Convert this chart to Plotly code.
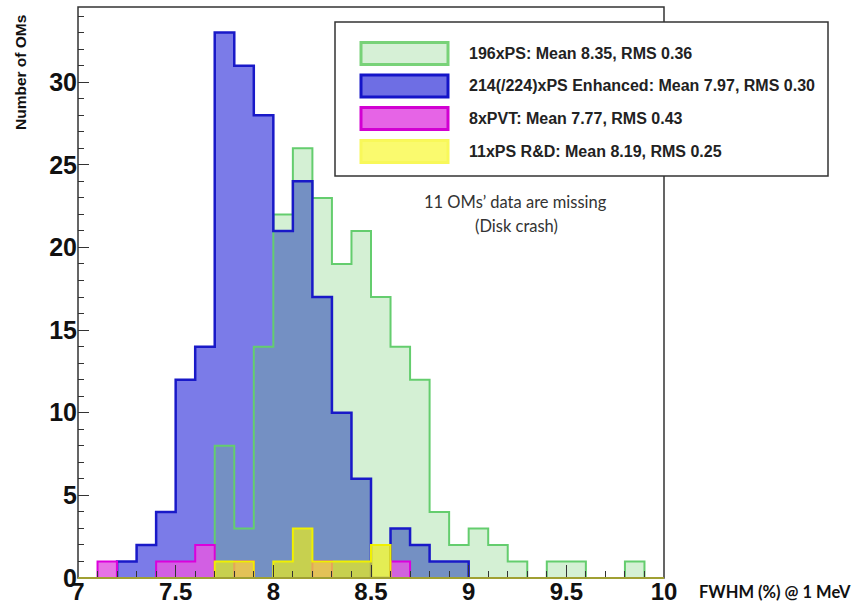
import plotly.graph_objects as go

# ---------------- data (bin width 0.1, FWHM %) ----------------
BIN_W = 0.1
enh_start = 7.2
enh_counts = [1, 2, 4, 12, 14, 33, 31, 28, 21, 24, 17, 10, 6, 0, 3, 2, 1, 1]
ps_start = 7.7
ps_counts = [8, 3, 14, 22, 26, 23, 19, 21, 17, 14, 12, 4, 2, 3, 2, 1, 0, 1, 1, 0, 0, 1]
pvt_start = 7.1
pvt_counts = [1, 0, 0, 1, 1, 2, 0, 1, 0, 0, 0, 1, 0, 0, 0, 1]
rd_start = 7.7
rd_counts = [1, 1, 0, 1, 3, 1, 1, 1, 2]

legend_labels = [
    "196xPS: Mean 8.35, RMS 0.36",
    "214(/224)xPS Enhanced: Mean 7.97, RMS 0.30",
    "8xPVT: Mean 7.77, RMS 0.43",
    "11xPS R&amp;D: Mean 8.19, RMS 0.25",
]
x_ticks = [7, 7.5, 8, 8.5, 9, 9.5, 10]
x_tick_text = ["7", "7.5", "8", "8.5", "9", "9.5", "10"]
y_ticks = [0, 5, 10, 15, 20, 25, 30]
note_lines = ["11 OMs’ data are missing", "(Disk crash)"]

# ---------------- geometry ----------------
W, H = 856, 605
L, R, T, B = 78, 664, 7, 578   # plot area in pixels


def px_x(x):
    return (x - L) / (R - L)


def px_y(y):
    return (B - y) / (B - T)


def step(start, counts):
    edges = [round(start + i * BIN_W, 3) for i in range(len(counts) + 1)]
    xs = [edges[0]] + edges[:-1] + [edges[-1]]
    ys = [0] + list(counts) + [0]
    return xs, ys


fig = go.Figure()

bx, by = step(enh_start, enh_counts)
gx, gy = step(ps_start, ps_counts)
mx, my = step(pvt_start, pvt_counts)
yx, yy = step(rd_start, rd_counts)

# blue fill
fig.add_trace(go.Scatter(x=bx, y=by, mode="lines", line_shape="hv",
                         fill="tozeroy", fillcolor="rgb(123,123,232)",
                         line=dict(width=0), hoverinfo="skip"))
# green fill + outline (drawn over blue, semi transparent)
fig.add_trace(go.Scatter(x=gx, y=gy, mode="lines", line_shape="hv",
                         fill="tozeroy", fillcolor="rgba(100,200,100,0.28)",
                         line=dict(color="rgb(100,205,110)", width=2),
                         hoverinfo="skip"))
# blue outline on top
fig.add_trace(go.Scatter(x=bx, y=by, mode="lines", line_shape="hv",
                         line=dict(color="rgb(25,25,200)", width=2.5),
                         hoverinfo="skip"))
# magenta
fig.add_trace(go.Scatter(x=mx, y=my, mode="lines", line_shape="hv",
                         fill="tozeroy", fillcolor="rgba(226,90,226,0.85)",
                         line=dict(color="rgb(220,0,220)", width=2),
                         hoverinfo="skip"))
# yellow
fig.add_trace(go.Scatter(x=yx, y=yy, mode="lines", line_shape="hv",
                         fill="tozeroy", fillcolor="rgba(235,235,30,0.7)",
                         line=dict(color="rgb(240,240,0)", width=2),
                         hoverinfo="skip"))

xtickfont = dict(family="Liberation Sans, Arial", size=24, color="#111", weight="bold")
ytickfont = dict(family="Liberation Sans, Arial", size=25, color="#111", weight="bold")

fig.update_xaxes(range=[7, 10], tickvals=x_ticks, ticktext=x_tick_text,
                 ticks="inside", ticklen=13, tickwidth=1.2, tickcolor="#333",
                 minor=dict(dtick=0.1, ticks="inside", ticklen=7, tickcolor="#333", tickwidth=1),
                 showgrid=False, zeroline=False, showline=False, tickfont=xtickfont,
                 ticklabelstandoff=-3)
fig.update_yaxes(range=[0, 34.55], tickvals=y_ticks,
                 ticks="inside", ticklen=11, tickwidth=1.2, tickcolor="#333",
                 minor=dict(dtick=1, ticks="inside", ticklen=6, tickcolor="#333", tickwidth=1),
                 showgrid=False, zeroline=False, showline=False, tickfont=ytickfont)

shapes = []
# frame
shapes.append(dict(type="rect", xref="paper", yref="paper", x0=0, x1=1, y0=0, y1=1,
                   line=dict(color="#333", width=1.5), layer="above"))
# olive baseline
shapes.append(dict(type="line", xref="paper", yref="paper", x0=0, x1=1, y0=0, y1=0,
                   line=dict(color="rgb(160,160,50)", width=2), layer="above"))
# legend frame
shapes.append(dict(type="rect", xref="paper", yref="paper",
                   x0=px_x(335), x1=px_x(828), y0=px_y(176), y1=px_y(22),
                   line=dict(color="#333", width=1.5), fillcolor="white", layer="above"))

box_styles = [
    ("rgb(214,240,214)", "rgb(120,210,120)"),
    ("rgb(110,110,228)", "rgb(20,20,200)"),
    ("rgb(230,100,230)", "rgb(210,0,210)"),
    ("rgb(250,250,110)", "rgb(248,248,90)"),
]
row_y = [53.5, 86, 118.5, 151.5]
annotations = []
for (fc, lc), yc, lab in zip(box_styles, row_y, legend_labels):
    shapes.append(dict(type="rect", xref="paper", yref="paper",
                       x0=px_x(361), x1=px_x(448), y0=px_y(yc + 11), y1=px_y(yc - 11),
                       line=dict(color=lc, width=3), fillcolor=fc, layer="above"))
    annotations.append(dict(xref="paper", yref="paper", x=px_x(467), y=px_y(yc - 0.5),
                            xanchor="left", yanchor="middle", showarrow=False, text=lab,
                            font=dict(family="Liberation Sans, Arial", size=16,
                                      color="#222", weight="bold")))

# note
annotations.append(dict(xref="paper", yref="paper", x=px_x(515), y=px_y(202),
                        xanchor="center", yanchor="middle", showarrow=False,
                        text=note_lines[0],
                        font=dict(family="Lato", size=16.5, color="#333")))
annotations.append(dict(xref="paper", yref="paper", x=px_x(516), y=px_y(226),
                        xanchor="center", yanchor="middle", showarrow=False,
                        text=note_lines[1],
                        font=dict(family="Lato", size=16.5, color="#333")))
# axis titles
annotations.append(dict(xref="paper", yref="paper", x=px_x(697), y=px_y(592),
                        xanchor="left", yanchor="middle", showarrow=False,
                        text="FWHM (%) @ 1 MeV",
                        font=dict(family="Lato", size=16.5, color="#111", weight="bold")))
annotations.append(dict(xref="paper", yref="paper", x=px_x(21), y=px_y(73),
                        xanchor="center", yanchor="middle", showarrow=False,
                        textangle=-90, text="Number of OMs",
                        font=dict(family="Liberation Sans, Arial", size=15.5,
                                  color="#111", weight="bold")))

fig.update_layout(width=W, height=H, showlegend=False,
                  margin=dict(l=L, r=W - R, t=T, b=H - B, autoexpand=False),
                  paper_bgcolor="white", plot_bgcolor="white",
                  shapes=shapes, annotations=annotations)

fig.write_html("out.html")
